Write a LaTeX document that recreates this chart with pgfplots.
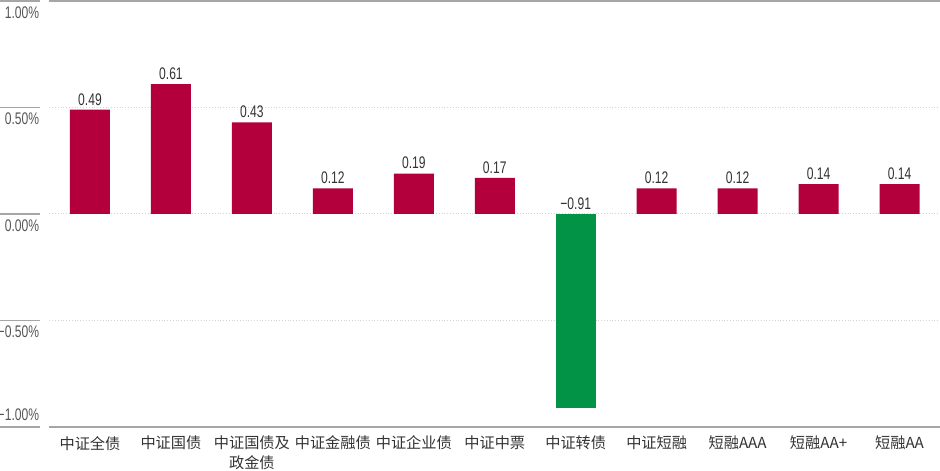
\documentclass[border=0pt]{standalone}
\usepackage{fontspec}
\setmainfont{Liberation Sans}[FakeStretch=0.72]
\newfontfamily\cjk{Noto Sans CJK SC}
\usepackage{pgfplots}
\pgfplotsset{compat=1.18}
\definecolor{barred}{HTML}{B3003C}
\definecolor{bargreen}{HTML}{029347}
\definecolor{txt}{HTML}{333333}
\definecolor{ticktxt}{HTML}{555555}
\tikzset{tl/.style={font=\fontsize{8.4pt}{9pt}\selectfont, text=ticktxt, inner sep=0pt},
  seg/.style={gray!70, line width=0.6pt}}
\begin{document}
\begin{tikzpicture}
\useasboundingbox (0,0) rectangle (470pt,235pt);
\begin{axis}[
  at={(24.75pt,21.5pt)}, anchor=south west,
  scale only axis, width=445.25pt, height=213pt,
  xmin=-0.5, xmax=10.5, ymin=-1, ymax=1,
  axis line style={draw=none},
  ytick={-0.5,0,0.5}, yticklabels={},
  ymajorgrids, grid style={densely dotted, gray!35, line width=0.5pt},
  extra y ticks={-1,1}, extra y tick labels={},
  extra y tick style={grid style={solid, gray!70, line width=0.6pt}},
  xtick={0,...,10},
  xticklabels={中证全债,中证国债,中证国债及\\政金债,中证金融债,中证企业债,中证中票,中证转债,中证短融,短融AAA,短融AA+,短融AA},
  xticklabel style={font=\cjk\fontsize{7.6pt}{10pt}\selectfont, text=txt, align=center, anchor=north, yshift=-1pt},
  major tick length=0pt,
  clip=false,
  ybar, bar width=20pt,
]
\addplot[fill=barred, draw=none, bar shift=0pt,
  nodes near coords={\pgfmathprintnumber[fixed, fixed zerofill, precision=2, assume math mode=true]{\pgfplotspointmeta}},
  every node near coord/.append style={font=\fontsize{8.4pt}{9pt}\selectfont, text=txt, inner sep=1pt, yshift=1pt}] coordinates {
 (0,0.49) (1,0.61) (2,0.43) (3,0.12) (4,0.19) (5,0.17) (7,0.12) (8,0.12) (9,0.14) (10,0.14)};
\addplot[fill=bargreen, draw=none, bar shift=0pt] coordinates {(6,-0.91)};
\node[font=\fontsize{8.4pt}{9pt}\selectfont, text=txt, anchor=south, inner sep=1pt] at ([yshift=1pt]axis cs:6,0) {−0.91};
\draw[seg] ([xshift=-24.75pt]axis cs:-0.5,1) -- ([xshift=-4.75pt]axis cs:-0.5,1);
\draw[seg] ([xshift=-24.75pt]axis cs:-0.5,0.5) -- ([xshift=-4.75pt]axis cs:-0.5,0.5);
\draw[seg] ([xshift=-24.75pt]axis cs:-0.5,0) -- ([xshift=-4.75pt]axis cs:-0.5,0);
\draw[seg] ([xshift=-24.75pt]axis cs:-0.5,-0.5) -- ([xshift=-4.75pt]axis cs:-0.5,-0.5);
\draw[seg] ([xshift=-24.75pt]axis cs:-0.5,-1) -- ([xshift=-4.75pt]axis cs:-0.5,-1);
\node[tl, anchor=north east] at ([xshift=-5pt, yshift=-2.5pt]axis cs:-0.5,1) {1.00\%};
\node[tl, anchor=north east] at ([xshift=-5pt, yshift=-2.5pt]axis cs:-0.5,0.5) {0.50\%};
\node[tl, anchor=north east] at ([xshift=-5pt, yshift=-2.5pt]axis cs:-0.5,0) {0.00\%};
\node[tl, anchor=north east] at ([xshift=-5pt, yshift=-2.5pt]axis cs:-0.5,-0.5) {−0.50\%};
\node[tl, anchor=south east] at ([xshift=-5pt, yshift=3pt]axis cs:-0.5,-1) {−1.00\%};
\end{axis}
\end{tikzpicture}
\end{document}
